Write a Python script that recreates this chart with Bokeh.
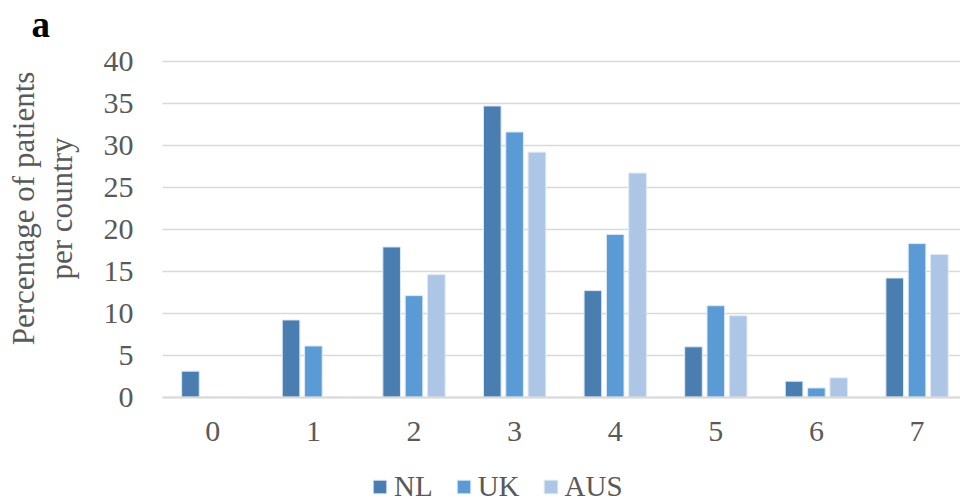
import math
from bokeh.plotting import figure
from bokeh.models import (ColumnDataSource, FixedTicker, Legend, LegendItem, Label,
                          BoxAnnotation)
from bokeh.transform import dodge
from bokeh.embed import file_html
from bokeh.resources import INLINE

categories = [0, 1, 2, 3, 4, 5, 6, 7]
tick_labels = ["0", "1", "2", "3", "4", "5", "6", "7"]
nl = [3.1, 9.2, 17.9, 34.7, 12.7, 6.0, 1.9, 14.2]
uk = [0.0, 6.1, 12.1, 31.6, 19.4, 10.9, 1.1, 18.3]
aus = [0.0, 0.0, 14.6, 29.2, 26.7, 9.7, 2.3, 17.0]
series = ["NL", "UK", "AUS"]
colors = ["#4a7eb0", "#5b9bd5", "#adc6e6"]
y_ticks = [0, 5, 10, 15, 20, 25, 30, 35, 40]
y_label_lines = ["Percentage of patients", "per country"]
panel_letter = "a"

src = ColumnDataSource(dict(cat=categories, NL=nl, UK=uk, AUS=aus))

FONT = "Liberation Serif"
GREY = "#595959"

X_END = 7.432
# the frame covers the whole picture; the plotting area starts at x=-0.5, y=0
p = figure(width=960, height=503, x_range=(-2.110, X_END), y_range=(-12.67, 47.27),
           output_backend="svg", toolbar_location=None,
           min_border_left=0, min_border_right=0, min_border_top=0,
           min_border_bottom=0)
p.outline_line_color = None
p.background_fill_color = "white"

offsets = [-0.222, 0.0, 0.222]
renderers = []
for s, c, off in zip(series, colors, offsets):
    r = p.vbar(x=dodge("cat", off, range=p.x_range), top=s, bottom=0, width=0.175,
               source=src, fill_color=c, line_color="#dde8f4", line_width=1)
    renderers.append(r)

p.xaxis.ticker = FixedTicker(ticks=categories)
p.xaxis.major_label_overrides = {c: t for c, t in zip(categories, tick_labels)}
p.xaxis.fixed_location = 0
p.xaxis.bounds = (-0.5, X_END)
p.yaxis.ticker = FixedTicker(ticks=y_ticks)
p.yaxis.fixed_location = -0.5
p.yaxis.bounds = (0, 40)

for ax in (p.xaxis, p.yaxis):
    ax.major_tick_line_color = None
    ax.minor_tick_line_color = None
    ax.major_label_text_font = FONT
    ax.major_label_text_font_size = "30px"
    ax.major_label_text_color = GREY
p.yaxis.axis_line_color = None
p.xaxis.axis_line_color = "#d9d9d9"
p.xaxis.axis_line_width = 2
p.xaxis.major_label_standoff = 19
p.yaxis.major_label_standoff = 23

p.xgrid.grid_line_color = None
p.ygrid.grid_line_color = "#d9d9d9"
p.ygrid.grid_line_width = 1.5
p.ygrid.bounds = (0, 40)
grid = p.ygrid[0]
if "cross_bounds" in grid.properties():
    grid.cross_bounds = (-0.5, X_END)
else:
    p.add_layout(BoxAnnotation(right=-0.5, fill_color="white", fill_alpha=1.0,
                               line_alpha=0, level="underlay"))

# rotated two-line y title and the panel letter
for txt, sx in zip(y_label_lines, [23, 61]):
    p.add_layout(Label(x=sx, y=503 - 208, x_units="screen", y_units="screen", text=txt,
                       angle=math.pi / 2, text_align="center", text_baseline="middle",
                       text_font=FONT, text_font_size="31px", text_color=GREY))

p.add_layout(Label(x=31, y=503 - 24, x_units="screen", y_units="screen", text=panel_letter,
                   text_align="left", text_baseline="alphabetic",
                   text_font=FONT, text_font_size="37px", text_font_style="bold",
                   text_color="black"))

legend = Legend(items=[LegendItem(label=s, renderers=[r]) for s, r in zip(series, renderers)],
                orientation="horizontal", location=(371, 0),
                glyph_width=17, glyph_height=17, label_standoff=6, spacing=22,
                padding=0, margin=0, border_line_color=None, background_fill_alpha=0,
                label_text_font=FONT, label_text_font_size="29px",
                label_text_color=GREY)
p.add_layout(legend, "center")

open("out.html", "w").write(file_html(p, INLINE))
